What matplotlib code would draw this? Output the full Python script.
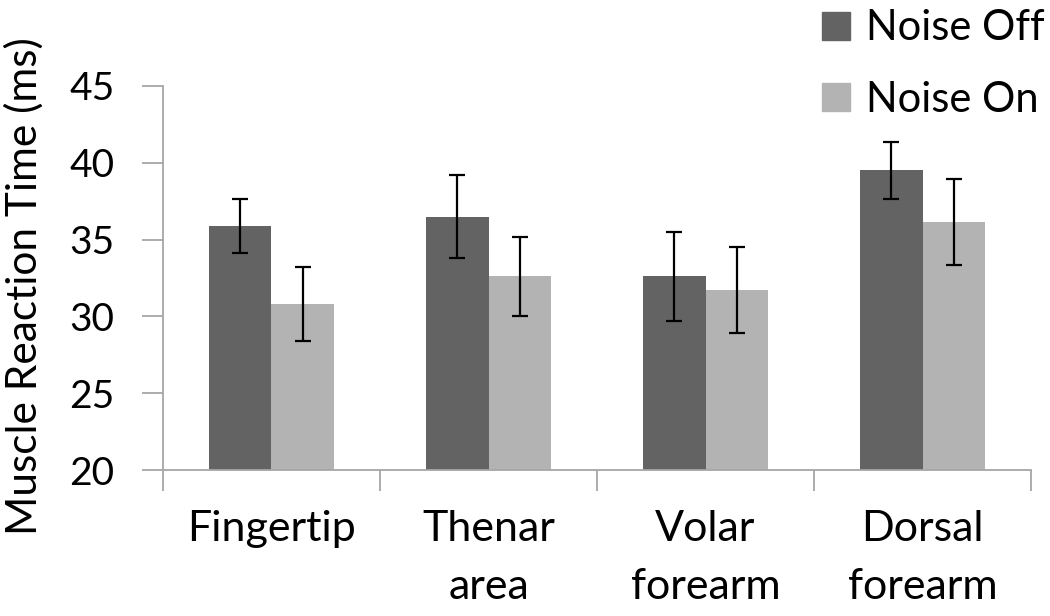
import numpy as np
import matplotlib
matplotlib.use("Agg")
import matplotlib.pyplot as plt
from matplotlib.patches import Patch

plt.rcParams['font.family'] = ['Lato', 'DejaVu Sans']

# data
categories = ['Fingertip', 'Thenar\narea', 'Volar\nforearm', 'Dorsal\nforearm']
noise_off = [35.9, 36.5, 32.6, 39.5]
noise_off_err = [1.75, 2.7, 2.9, 1.85]
noise_on = [30.8, 32.6, 31.75, 36.15]
noise_on_err = [2.4, 2.55, 2.8, 2.8]

dark = '#636363'
light = '#b3b3b3'
axis_grey = '#a6a6a6'

fig = plt.figure(figsize=(10.5, 6.16), dpi=100)
ax = fig.add_axes([0.1552, 0.237, 0.8268, 0.6234])

x = np.arange(len(categories))
w = 0.288
err_kw = dict(ecolor='black', elinewidth=1.6, capsize=6, capthick=1.6)
ax.bar(x - w / 2, noise_off, w, yerr=noise_off_err, color=dark, error_kw=err_kw)
ax.bar(x + w / 2, noise_on, w, yerr=noise_on_err, color=light, error_kw=err_kw)

ax.set_xlim(-0.5, len(categories) - 0.5)
ax.set_ylim(20, 45)
ax.set_yticks([20, 25, 30, 35, 40, 45])
ax.set_ylabel('Muscle Reaction Time (ms)', fontsize=30.5)
ax.yaxis.set_label_coords(-0.137, 0.48)

# category labels at centres, tick marks at boundaries
ax.set_xticks(x)
ax.set_xticklabels(categories, fontsize=31, linespacing=1.63)
ax.tick_params(axis='x', which='major', length=0, pad=29)
ax.set_xticks(np.arange(len(categories) + 1) - 0.5, minor=True)
ax.tick_params(axis='x', which='minor', length=15, width=1.3, color=axis_grey)
ax.tick_params(axis='y', length=15, width=1.3, color=axis_grey, labelsize=28, pad=20)

for s in ['top', 'right']:
    ax.spines[s].set_visible(False)
for s in ['left', 'bottom']:
    ax.spines[s].set_color(axis_grey)
    ax.spines[s].set_linewidth(1.3)

handles = [Patch(color=dark, label='Noise Off'), Patch(color=light, label='Noise On')]
fig.legend(handles=handles, loc='upper right', bbox_to_anchor=(1.011, 1.012),
           frameon=False, fontsize=30, handlelength=0.66, handleheight=0.66,
           handletextpad=0.4, labelspacing=0.8, borderaxespad=0.0)

fig.savefig('out.png', dpi=100)
